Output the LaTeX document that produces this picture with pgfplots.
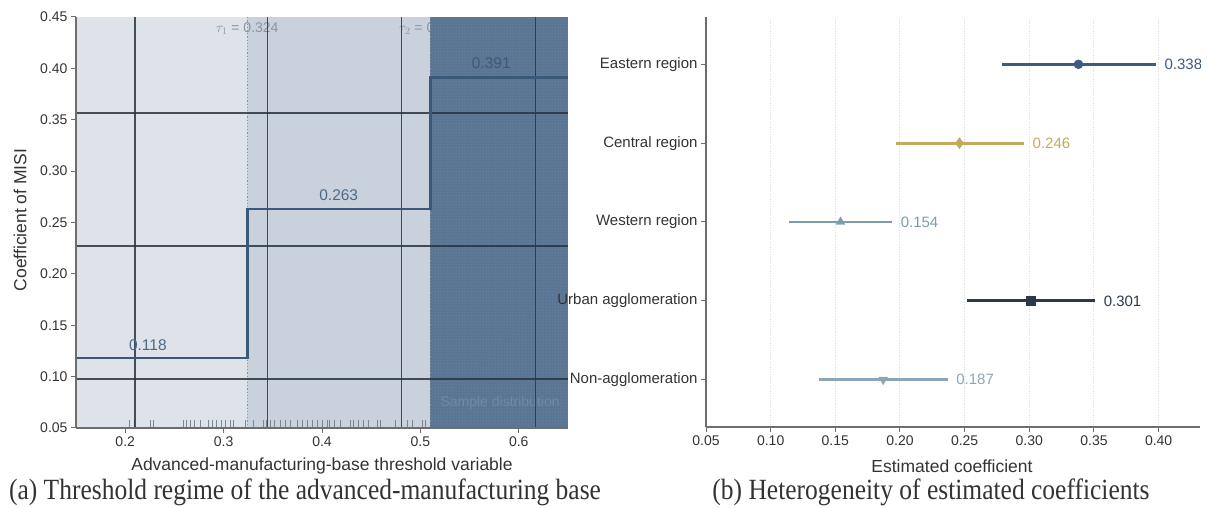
\documentclass[border=0pt]{standalone}
\usepackage{fontspec}
\setmainfont{Liberation Sans}
\newfontfamily\seriffont{Liberation Serif}
\usepackage{pgfplots}
\pgfplotsset{compat=1.18}
\usetikzlibrary{patterns}
\definecolor{regA}{HTML}{DEE3EA}
\definecolor{regB}{HTML}{C9D2DC}
\definecolor{regC}{HTML}{5A7593}
\definecolor{dotc}{HTML}{7990AA}
\definecolor{gridk}{HTML}{2A3440}
\definecolor{stepc}{HTML}{3A5878}
\definecolor{vlab}{HTML}{4B6A8A}
\definecolor{vlabd}{HTML}{3E5A78}
\definecolor{taulab}{HTML}{8C949E}
\definecolor{rugc}{HTML}{7A8591}
\definecolor{tickc}{HTML}{333333}
\definecolor{spinec}{HTML}{6E6E6E}
\definecolor{cEast}{HTML}{3D5A80}
\definecolor{cCent}{HTML}{C4A95E}
\definecolor{cWest}{HTML}{7E9BA8}
\definecolor{cUrb}{HTML}{2B3948}
\definecolor{cNon}{HTML}{8CA6B8}
\definecolor{gridl}{HTML}{D9DDE2}
\definecolor{samp}{HTML}{7089A4}
\begin{document}
\begin{tikzpicture}
\useasboundingbox (0,0) rectangle (1208pt,508pt);
% ---------------- left panel ----------------
\begin{axis}[
  at={(76pt,80pt)}, anchor=south west, scale only axis,
  width=492pt, height=411pt,
  xmin=0.15, xmax=0.65, ymin=0.05, ymax=0.45,
  axis lines*=left, axis on top,
  axis line style={spinec, line width=1.2pt},
  xtick={0.2,0.3,0.4,0.5,0.6},
  ytick={0.05,0.1,0.15,0.2,0.25,0.3,0.35,0.4,0.45},
  tick align=outside, major tick length=5pt,
  tick style={spinec, line width=1pt},
  x tick label style={/pgf/number format/.cd, fixed, precision=1},
  y tick label style={/pgf/number format/.cd, fixed, fixed zerofill, precision=2},
  tick label style={font=\fontsize{14}{16}\selectfont, text=tickc},
  /pgf/number format/assume math mode=true,
]
\addplot[fill=regA, draw=none] coordinates {(0.15,0.45) (0.324,0.45)} \closedcycle;
\addplot[fill=regB, draw=none] coordinates {(0.324,0.45) (0.51,0.45)} \closedcycle;
% rug
\addplot[ycomb, rugc, line width=0.8pt, mark=none] coordinates {
(0.204,0.058) (0.209,0.058) (0.226,0.058) (0.229,0.058) (0.259,0.058) (0.262,0.058)
(0.266,0.058) (0.270,0.058) (0.276,0.058) (0.285,0.058) (0.289,0.058) (0.293,0.058)
(0.298,0.058) (0.302,0.058) (0.307,0.058) (0.310,0.058) (0.322,0.058) (0.330,0.058)
(0.340,0.058) (0.344,0.058) (0.348,0.058) (0.352,0.058) (0.358,0.058) (0.363,0.058)
(0.368,0.058) (0.375,0.058) (0.380,0.058) (0.385,0.058) (0.390,0.058) (0.395,0.058)
(0.400,0.058) (0.405,0.058) (0.408,0.058) (0.413,0.058) (0.419,0.058) (0.429,0.058)
(0.432,0.058) (0.437,0.058) (0.442,0.058) (0.447,0.058) (0.456,0.058) (0.459,0.058)
(0.475,0.058) (0.487,0.058) (0.492,0.058) (0.502,0.058) (0.505,0.058)};
% threshold lines
\addplot[taulab, dotted, line width=1.2pt] coordinates {(0.324,0.05) (0.324,0.45)};
\addplot[taulab, dotted, line width=1.2pt] coordinates {(0.51,0.05) (0.51,0.45)};
\node[text=taulab, font=\fontsize{14}{16}\selectfont] at (axis cs:0.324,0.439) {$\tau_1$ = 0.324};
\node[text=taulab, font=\fontsize{14}{16}\selectfont] at (axis cs:0.51,0.439) {$\tau_2$ = 0.510};
% dark regime
\addplot[fill=regC, draw=none] coordinates {(0.51,0.45) (0.65,0.45)} \closedcycle;
\addplot[pattern=dots, pattern color=dotc, draw=none] coordinates {(0.51,0.45) (0.65,0.45)} \closedcycle;
\addplot[taulab!70!regC, dotted, line width=1.2pt] coordinates {(0.51,0.05) (0.51,0.45)};
\node[text=samp, font=\fontsize{14}{16}\selectfont] at (axis cs:0.581,0.0744) {Sample distribution};
% overlay grid
\addplot[gridk, line width=1.2pt, opacity=0.85] coordinates {(0.210,0.05) (0.210,0.45)};
\addplot[gridk, line width=1.0pt, opacity=0.85] coordinates {(0.345,0.05) (0.345,0.45)};
\addplot[gridk, line width=1.0pt, opacity=0.85] coordinates {(0.481,0.05) (0.481,0.45)};
\addplot[gridk, line width=1.2pt, opacity=0.85] coordinates {(0.617,0.05) (0.617,0.45)};
\addplot[gridk, line width=1.2pt, opacity=0.85] coordinates {(0.15,0.3566) (0.65,0.3566)};
\addplot[gridk, line width=1.2pt, opacity=0.85] coordinates {(0.15,0.2271) (0.65,0.2271)};
\addplot[gridk, line width=1.2pt, opacity=0.85] coordinates {(0.15,0.0977) (0.65,0.0977)};
% step
\addplot[const plot mark left, stepc, line width=2.6pt] coordinates {(0.15,0.118) (0.324,0.263) (0.51,0.391) (0.65,0.391)};
\node[text=vlab, font=\fontsize{15.5}{18}\selectfont] at (axis cs:0.223,0.131) {0.118};
\node[text=vlab, font=\fontsize{15.5}{18}\selectfont] at (axis cs:0.417,0.277) {0.263};
\node[text=vlabd, font=\fontsize{15.5}{18}\selectfont] at (axis cs:0.572,0.405) {0.391};
\end{axis}
% ---------------- right panel ----------------
\begin{axis}[
  at={(706pt,81pt)}, anchor=south west, scale only axis,
  width=494pt, height=410pt,
  xmin=0.05, xmax=0.432, ymin=-0.6, ymax=4.6,
  axis lines*=left,
  axis line style={spinec, line width=1.5pt},
  xtick={0.05,0.1,0.15,0.2,0.25,0.3,0.35,0.4},
  ytick={0,1,2,3,4},
  yticklabels={Non-agglomeration,Urban agglomeration,Western region,Central region,Eastern region},
  xmajorgrids, grid style={gridl, dotted, line width=1pt},
  tick align=outside, major tick length=5pt,
  tick style={spinec, line width=1pt},
  x tick label style={/pgf/number format/.cd, fixed, fixed zerofill, precision=2},
  tick label style={font=\fontsize{14}{16}\selectfont, text=tickc},
  y tick label style={font=\fontsize{15}{17}\selectfont},
  /pgf/number format/assume math mode=true,
]
\addplot[cEast, line width=2.7pt] coordinates {(0.279,4) (0.398,4)};
\addplot[cEast, only marks, mark=*, mark size=4.5pt] coordinates {(0.338,4)};
\addplot[cCent, line width=2.7pt] coordinates {(0.197,3) (0.296,3)};
\addplot[cCent, only marks, mark=diamond*, mark size=5.5pt] coordinates {(0.246,3)};
\addplot[cWest, line width=2.7pt] coordinates {(0.114,2) (0.194,2)};
\addplot[cWest, only marks, mark=triangle*, mark size=5pt] coordinates {(0.154,2)};
\addplot[cUrb, line width=2.7pt] coordinates {(0.252,1) (0.351,1)};
\addplot[cUrb, only marks, mark=square*, mark size=4.5pt] coordinates {(0.301,1)};
\addplot[cNon, line width=2.7pt] coordinates {(0.137,0) (0.237,0)};
\addplot[cNon, only marks, mark=triangle*, mark size=5pt, mark options={rotate=180}] coordinates {(0.187,0)};
\node[anchor=west, xshift=5pt, text=cEast, font=\fontsize{15}{17}\selectfont] at (axis cs:0.398,4) {0.338};
\node[anchor=west, xshift=5pt, text=cCent, font=\fontsize{15}{17}\selectfont] at (axis cs:0.296,3) {0.246};
\node[anchor=west, xshift=5pt, text=cWest, font=\fontsize{15}{17}\selectfont] at (axis cs:0.194,2) {0.154};
\node[anchor=west, xshift=5pt, text=cUrb, font=\fontsize{15}{17}\selectfont] at (axis cs:0.351,1) {0.301};
\node[anchor=west, xshift=5pt, text=cNon, font=\fontsize{15}{17}\selectfont] at (axis cs:0.237,0) {0.187};
\end{axis}
% labels
\node[text=tickc, font=\fontsize{17.5}{20}\selectfont] at (322pt,42pt) {Advanced-manufacturing-base threshold variable};
\node[text=tickc, font=\fontsize{17.5}{20}\selectfont, rotate=90] at (20pt,288pt) {Coefficient of MISI};
\node[text=tickc, font=\fontsize{17.5}{20}\selectfont] at (952pt,42pt) {Estimated coefficient};
\node[text=tickc, font=\seriffont\fontsize{25.5}{30}\selectfont, inner sep=0pt] at (305pt,16pt) {\scalebox{1}[1.15]{(a) Threshold regime of the advanced-manufacturing base}};
\node[text=tickc, font=\seriffont\fontsize{25.5}{30}\selectfont, inner sep=0pt] at (931pt,16pt) {\scalebox{1}[1.15]{(b) Heterogeneity of estimated coefficients}};
\end{tikzpicture}
\end{document}
